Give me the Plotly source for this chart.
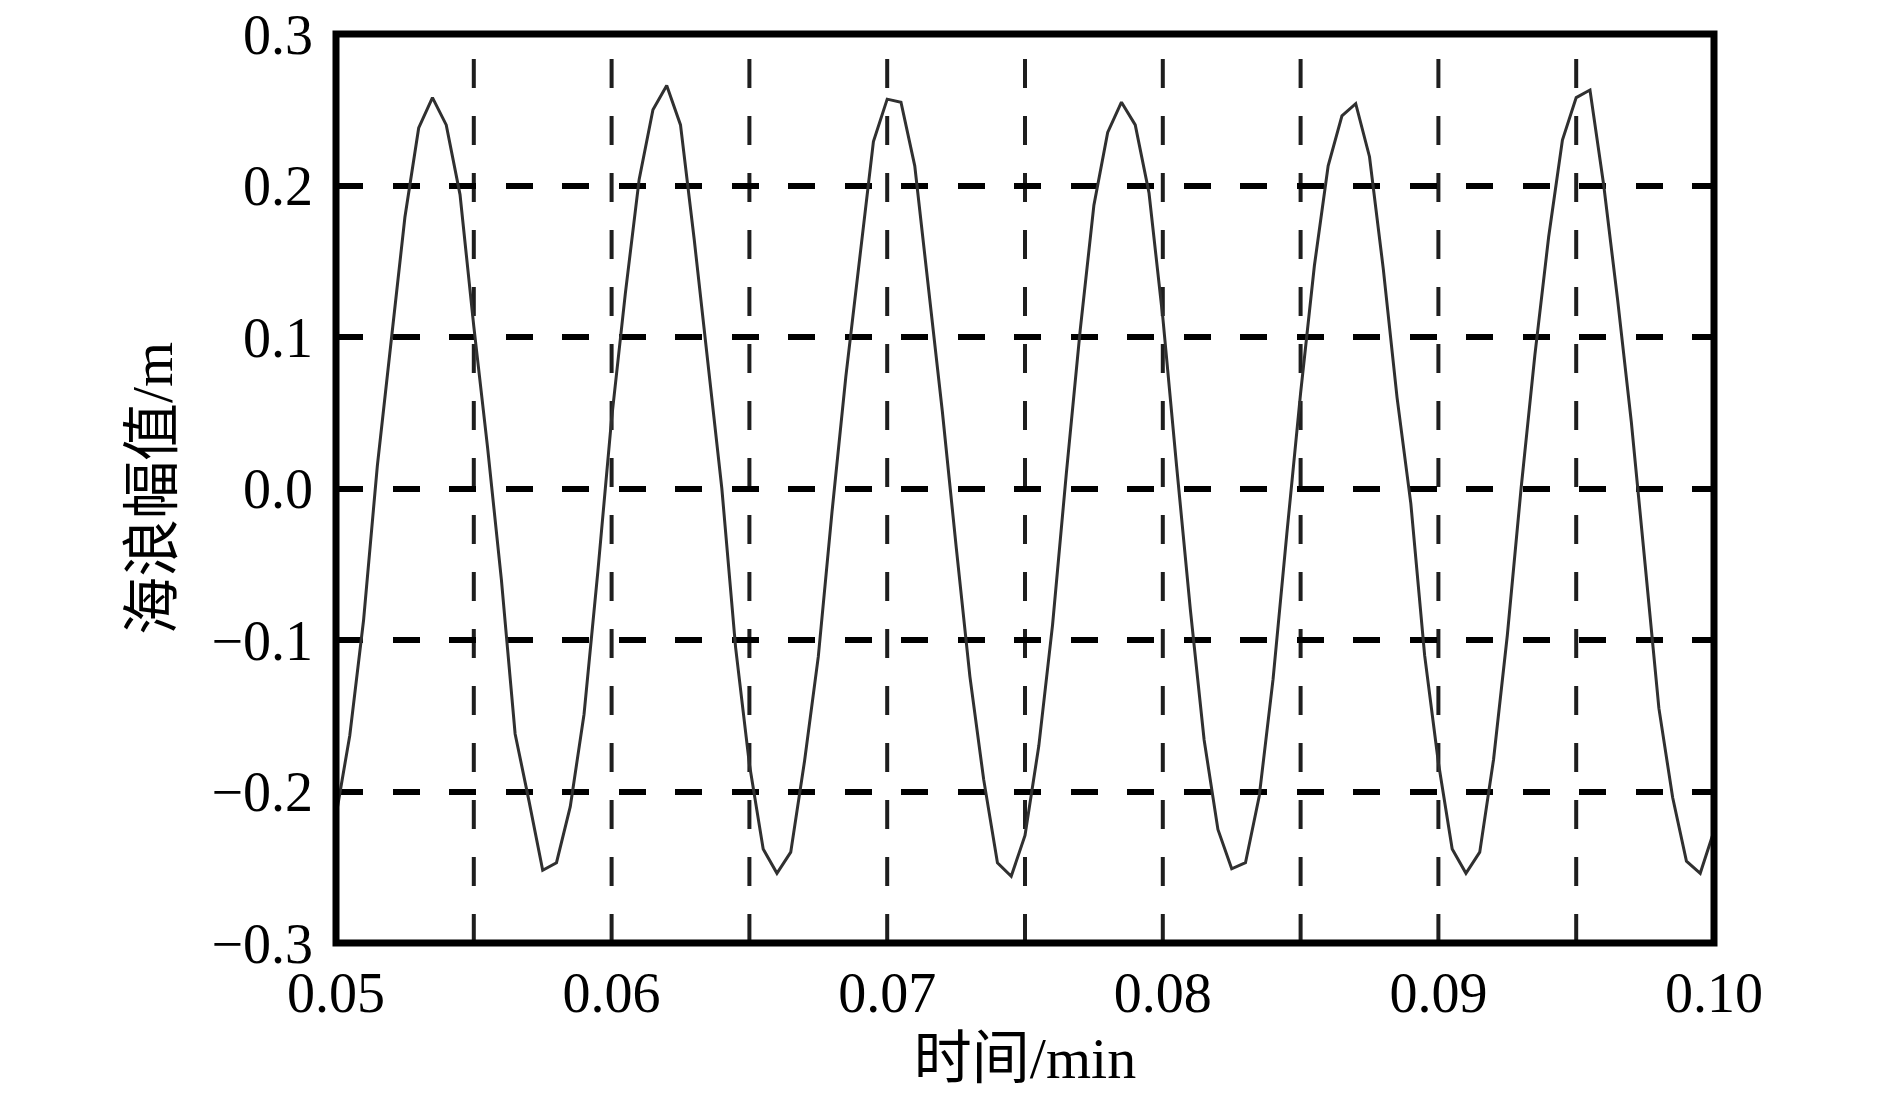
import plotly.graph_objects as go

# ---- data ----
t_start = 0.05
t_step = 0.0005
wave_height = [
    -0.216, -0.163, -0.087, 0.015, 0.097, 0.179, 0.238, 0.258, 0.240, 0.194,
    0.107, 0.027, -0.060, -0.162, -0.206, -0.252, -0.247, -0.210, -0.149, -0.055,
    0.046, 0.129, 0.204, 0.250, 0.266, 0.240, 0.164, 0.080, 0.000, -0.105,
    -0.182, -0.238, -0.254, -0.240, -0.180, -0.111, -0.015, 0.074, 0.152, 0.229,
    0.257, 0.255, 0.213, 0.131, 0.051, -0.038, -0.124, -0.192, -0.247, -0.256,
    -0.229, -0.170, -0.090, 0.010, 0.104, 0.187, 0.235, 0.255, 0.240, 0.195,
    0.113, 0.015, -0.080, -0.166, -0.225, -0.251, -0.247, -0.203, -0.126, -0.030,
    0.063, 0.147, 0.213, 0.246, 0.254, 0.219, 0.145, 0.060, -0.010, -0.110,
    -0.181, -0.238, -0.254, -0.240, -0.179, -0.097, 0.000, 0.088, 0.166, 0.230,
    0.258, 0.263, 0.200, 0.125, 0.044, -0.050, -0.145, -0.204, -0.246, -0.254,
    -0.226,
]
time_min = [round(t_start + i * t_step, 5) for i in range(len(wave_height))]

x_tick_vals = [0.05, 0.06, 0.07, 0.08, 0.09, 0.10]
x_tick_text = ["0.05", "0.06", "0.07", "0.08", "0.09", "0.10"]
x_grid_vals = [0.055, 0.06, 0.065, 0.07, 0.075, 0.08, 0.085, 0.09, 0.095]
y_tick_vals = [-0.3, -0.2, -0.1, 0.0, 0.1, 0.2, 0.3]
y_tick_text = ["\u22120.3", "\u22120.2", "\u22120.1", "0.0", "0.1", "0.2", "0.3"]

x_title = "时间/min"
y_title = "海浪幅值/m"

FONT = "Liberation Serif, Times New Roman, Noto Sans CJK SC, serif"

fig = go.Figure()
fig.add_trace(go.Scatter(
    x=time_min, y=wave_height, mode="lines",
    line=dict(color="#303030", width=3),
    showlegend=False, hoverinfo="skip",
))

# vertical dashed grid lines (drawn bottom-up)
for xv in x_grid_vals:
    fig.add_shape(type="line", xref="x", yref="paper", x0=xv, x1=xv, y0=0, y1=1,
                  line=dict(color="#1e1e1e", width=4, dash="29px,28px"), layer="below")

# heavy frame
fig.add_shape(type="rect", xref="paper", yref="paper", x0=0, x1=1, y0=0, y1=1,
              line=dict(color="black", width=7), layer="above")

fig.update_layout(
    width=1890, height=1102,
    margin=dict(l=336, r=176, t=34, b=159, autoexpand=False),
    paper_bgcolor="white", plot_bgcolor="white",
    font=dict(family=FONT, color="black"),
    xaxis=dict(
        range=[0.05, 0.10], tickvals=x_tick_vals, ticktext=x_tick_text,
        showgrid=False, zeroline=False, showline=False, ticks="",
        tickfont=dict(family=FONT, size=56, color="black"),
        ticklabelstandoff=12, ticklabeloverflow="allow", automargin=False,
        title=dict(text=x_title, font=dict(family=FONT, size=58, color="black"), standoff=14),
        fixedrange=True,
    ),
    yaxis=dict(
        range=[-0.3, 0.3], tickvals=y_tick_vals, ticktext=y_tick_text,
        showgrid=True, gridcolor="black", gridwidth=5.5, griddash="27px,29.5px",
        zeroline=False, showline=False, ticks="",
        tickfont=dict(family=FONT, size=56, color="black"),
        ticklabelstandoff=22, ticklabeloverflow="allow", automargin=False,
        title=dict(text=y_title, font=dict(family=FONT, size=58, color="black"), standoff=20),
        fixedrange=True,
    ),
)

fig.write_html("out.html", config={"displayModeBar": False},
               post_script="document.body.style.margin='0';")
